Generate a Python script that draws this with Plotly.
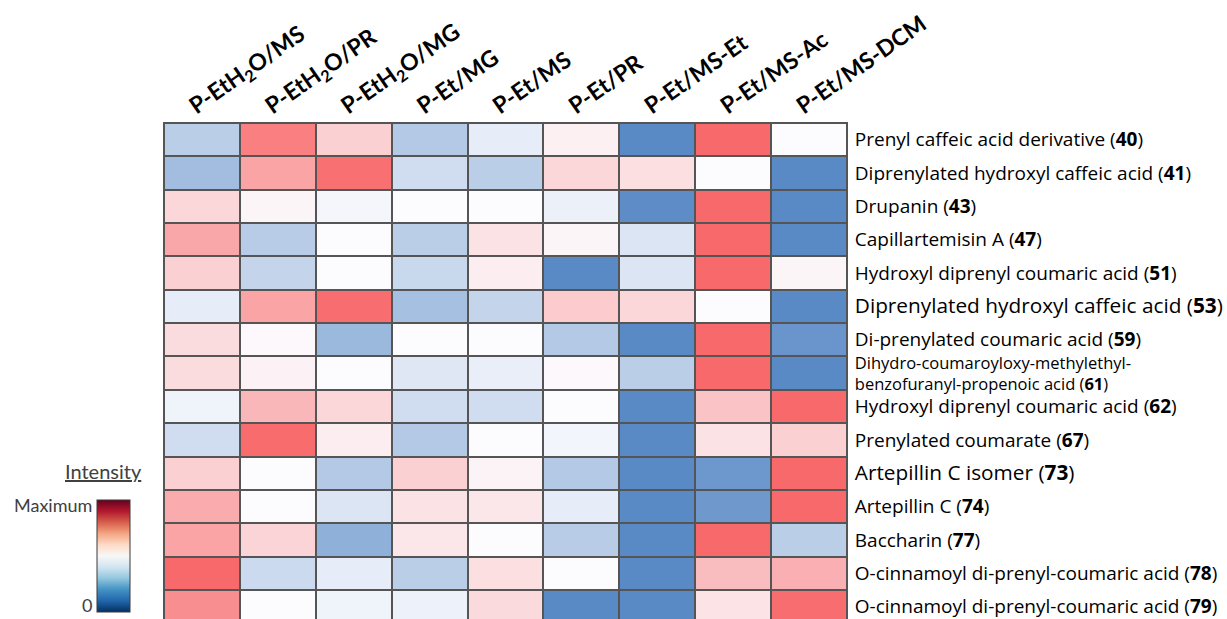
import plotly.graph_objects as go
import plotly.colors as pc

# ---------------- data ----------------
columns = ["P-EtH2O/MS", "P-EtH2O/PR", "P-EtH2O/MG", "P-Et/MG", "P-Et/MS",
           "P-Et/PR", "P-Et/MS-Et", "P-Et/MS-Ac", "P-Et/MS-DCM"]

compound_names = [
    "Prenyl caffeic acid derivative",
    "Diprenylated hydroxyl caffeic acid",
    "Drupanin",
    "Capillartemisin A",
    "Hydroxyl diprenyl coumaric acid",
    "Diprenylated hydroxyl caffeic acid",
    "Di-prenylated coumaric acid",
    "Dihydro-coumaroyloxy-methylethyl-\nbenzofuranyl-propenoic acid",
    "Hydroxyl diprenyl coumaric acid",
    "Prenylated coumarate",
    "Artepillin C isomer",
    "Artepillin C",
    "Baccharin",
    "O-cinnamoyl di-prenyl-coumaric acid",
    "O-cinnamoyl di-prenyl-coumaric acid",
]
compound_ids = [40, 41, 43, 47, 51, 53, 59, 61, 62, 67, 73, 74, 77, 78, 79]

# relative intensity (-1 = lowest / blue, 0 = middle / white, 1 = highest / red)
row_40 = [-0.40, 0.85, 0.30, -0.45, -0.13, 0.08, -1.00, 1.00, 0.00]
row_41 = [-0.55, 0.60, 0.95, -0.27, -0.40, 0.25, 0.20, 0.00, -1.00]
row_43 = [0.25, 0.05, -0.05, 0.00, 0.01, -0.10, -0.98, 1.00, -1.00]
row_47 = [0.58, -0.42, 0.00, -0.40, 0.18, 0.05, -0.20, 1.00, -1.00]
row_51 = [0.30, -0.35, 0.00, -0.32, 0.10, -1.00, -0.20, 1.00, 0.05]
row_53 = [-0.13, 0.60, 0.97, -0.53, -0.35, 0.33, 0.25, 0.00, -1.00]
row_59 = [0.22, 0.03, -0.60, 0.00, 0.00, -0.45, -1.00, 1.00, -0.90]
row_61 = [0.22, 0.07, 0.00, -0.18, -0.12, 0.03, -0.40, 1.00, -1.00]
row_62 = [-0.08, 0.47, 0.25, -0.27, -0.27, 0.00, -1.00, 0.38, 1.00]
row_67 = [-0.27, 0.98, 0.10, -0.45, 0.00, -0.06, -1.00, 0.18, 0.30]
row_73 = [0.30, 0.00, -0.45, 0.30, 0.06, -0.45, -1.00, -0.88, 1.00]
row_74 = [0.55, 0.00, -0.20, 0.18, 0.14, -0.13, -1.00, -0.87, 1.00]
row_77 = [0.60, 0.27, -0.67, 0.14, 0.00, -0.42, -1.00, 1.00, -0.40]
row_78 = [1.00, -0.30, -0.13, -0.40, 0.20, 0.00, -1.00, 0.43, 0.52]
row_79 = [0.75, 0.00, -0.08, -0.09, 0.23, -1.00, -1.00, 0.17, 0.97]

z = [row_40, row_41, row_43, row_47, row_51, row_53, row_59, row_61,
     row_62, row_67, row_73, row_74, row_77, row_78, row_79]

# ---------------- styles ----------------
W, H = 1227, 619
ML, MR, MT, MB = 164, 380, 123, 0
BIG_IDS = {53, 73}
HEAD_FONT = "Lato, 'Open Sans', sans-serif"
ROW_FONT = "'Open Sans', Lato, sans-serif"
ROW_SIZE = 19
BIG_SIZE = 20.8
WRAP_SIZE = 16.5
WRAP_OFFSET = 0.32  # half distance (in rows) between the two lines of a wrapped name
cell_scale = [[0.0, "#5A8AC6"], [0.5, "#FCFCFF"], [1.0, "#F8696B"]]
legend_scale = pc.diverging.RdBu_r

col_text = [c.replace("H2O", "H<sub>2</sub>O") for c in columns]

tick_vals, tick_text = [], []
for i, (name, cid) in enumerate(zip(compound_names, compound_ids)):
    parts = name.split("\n")
    if len(parts) == 1:
        label = f"{name} (<b>{cid}</b>)"
        if cid in BIG_IDS:
            label = f"<span style='font-size:{BIG_SIZE}px'>{label}</span>"
        tick_vals.append(i)
        tick_text.append(label)
    else:
        first = f"<span style='font-size:{WRAP_SIZE}px'>{parts[0]}</span>"
        second = f"<span style='font-size:{WRAP_SIZE}px'>{parts[1]} (<b>{cid}</b>)</span>"
        tick_vals += [i - WRAP_OFFSET, i + WRAP_OFFSET]
        tick_text += [first, second]

plot_h = H - MT - MB
plot_w = W - ML - MR


def px_to_paper_x(px):
    return (px - ML) / plot_w


def px_to_paper_y(py):
    return (H - MB - py) / plot_h


fig = go.Figure()
fig.add_trace(go.Heatmap(
    z=z, x=list(range(len(columns))), y=list(range(len(compound_ids))),
    colorscale=cell_scale, zmin=-1, zmax=1, showscale=False,
    xgap=2, ygap=2, hoverinfo="skip",
))

# legend colour bar (reference scale)
fig.add_trace(go.Scatter(
    x=[None], y=[None], mode="markers", showlegend=False, hoverinfo="skip",
    marker=dict(color=[0, 1], cmin=0, cmax=1, colorscale=legend_scale,
                showscale=True,
                colorbar=dict(x=px_to_paper_x(97), xanchor="left",
                              y=px_to_paper_y(612), yanchor="bottom",
                              lenmode="pixels", len=112,
                              thicknessmode="pixels", thickness=33,
                              outlinewidth=1, outlinecolor="#3a3a3a",
                              showticklabels=False, ticks="",
                              xpad=0, ypad=0)),
))

fig.update_layout(
    width=W, height=H,
    margin=dict(l=ML, r=MR, t=MT, b=MB, pad=0),
    paper_bgcolor="white", plot_bgcolor="#555555",
    font=dict(family=ROW_FONT, color="#000000", size=ROW_SIZE),
    xaxis=dict(side="top", tickmode="array",
               tickvals=list(range(len(columns))), ticktext=col_text,
               tickangle=-35,
               tickfont=dict(size=23, family=HEAD_FONT, weight="bold"),
               range=[-0.5, len(columns) - 0.5], showgrid=False, zeroline=False,
               showline=True, linecolor="#555555", linewidth=1, mirror=True,
               ticks="", ticklabelshift=-12, ticklabelstandoff=-4),
    yaxis=dict(side="right", tickmode="array",
               tickvals=tick_vals, ticktext=tick_text,
               range=[14.37, -0.5], showgrid=False, zeroline=False,
               showline=True, linecolor="#555555", linewidth=1, mirror=True,
               ticks="", ticklabelstandoff=3, ticklabeloverflow="allow",
               tickfont=dict(size=ROW_SIZE, family=ROW_FONT)),
    annotations=[
        dict(text="<u>Intensity</u>", x=px_to_paper_x(103), y=px_to_paper_y(471),
             xref="paper", yref="paper", showarrow=False, xanchor="center",
             yanchor="middle", font=dict(size=20, color="#404040", family=HEAD_FONT)),
        dict(text="Maximum", x=px_to_paper_x(94), y=px_to_paper_y(505),
             xref="paper", yref="paper", showarrow=False, xanchor="right",
             yanchor="middle", font=dict(size=18, color="#404040", family=HEAD_FONT)),
        dict(text="0", x=px_to_paper_x(94), y=px_to_paper_y(605),
             xref="paper", yref="paper", showarrow=False, xanchor="right",
             yanchor="middle", font=dict(size=18, color="#404040", family=HEAD_FONT)),
    ],
)

fig.write_html("out.html", config={"displayModeBar": False},
               post_script="document.body.style.margin='0';")
